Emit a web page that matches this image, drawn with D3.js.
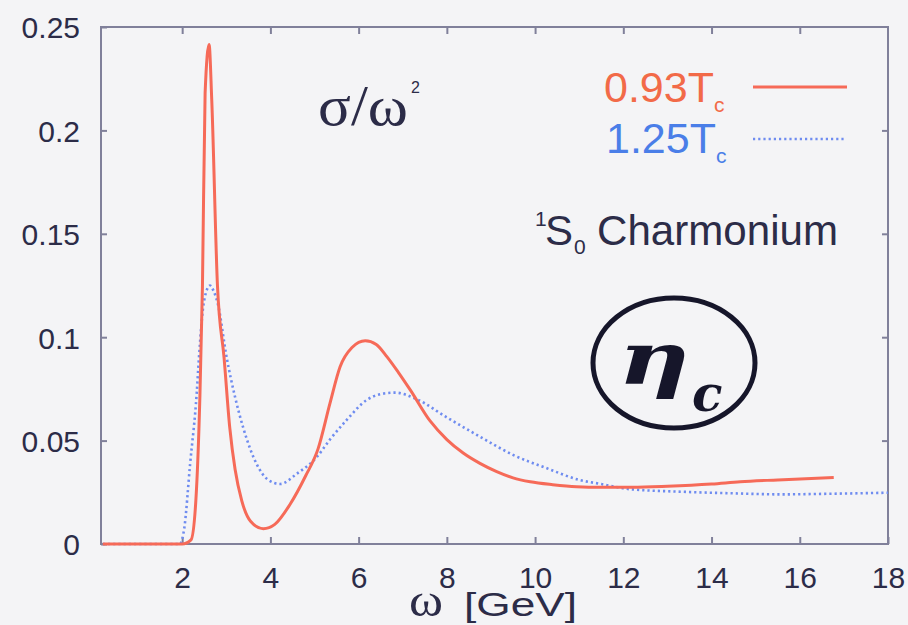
<!DOCTYPE html>
<html>
<head>
<meta charset="utf-8">
<script src="https://cdn.jsdelivr.net/npm/d3@7"></script>
<style>
  html, body { margin: 0; padding: 0; background: #f4f4f6; }
  svg { display: block; }
</style>
</head>
<body>
<svg id="chart" width="908" height="625"></svg>
<script>
// ---- data ----
const omegaRed = [0.2, 2.0, 2.2, 2.31, 2.4, 2.46, 2.52, 2.61, 2.67, 2.8, 2.95, 3.08, 3.2, 3.35, 3.55, 3.84, 4.1, 4.44, 4.8, 5.08, 5.35, 5.58, 5.85, 6.15, 6.4, 6.64, 6.9, 7.17, 7.62, 8.0, 8.37, 8.75, 9.13, 9.5, 9.89, 10.4, 10.94, 11.5, 12.2, 13.0, 14.0, 14.65, 15.5, 16.77];
const sigmaRed = [0, 0, 0.002, 0.021, 0.07, 0.125, 0.218, 0.2415, 0.215, 0.125, 0.09, 0.056, 0.036, 0.021, 0.011, 0.0074, 0.0095, 0.019, 0.033, 0.046, 0.068, 0.0857, 0.095, 0.0983, 0.0965, 0.0906, 0.083, 0.0745, 0.0595, 0.0505, 0.044, 0.039, 0.035, 0.032, 0.0301, 0.0287, 0.0277, 0.0274, 0.0274, 0.0279, 0.029, 0.0301, 0.031, 0.0322];

const omegaBlue = [0.2, 1.95, 2.05, 2.18, 2.33, 2.38, 2.5, 2.63, 2.72, 2.81, 3.01, 3.2, 3.39, 3.69, 3.95, 4.22, 4.6, 5.05, 5.35, 5.73, 6.18, 6.5, 6.83, 7.32, 8.0, 8.75, 9.51, 10.27, 11.0, 11.5, 12.15, 13.29, 14.5, 15.56, 16.7, 18.0];
const sigmaBlue = [0, 0, 0.008, 0.0387, 0.073, 0.090, 0.118, 0.125, 0.122, 0.116, 0.090, 0.071, 0.0558, 0.0386, 0.031, 0.029, 0.034, 0.042, 0.0505, 0.060, 0.0696, 0.0725, 0.0732, 0.0700, 0.0612, 0.0519, 0.043, 0.0366, 0.031, 0.029, 0.0265, 0.0253, 0.0245, 0.024, 0.0243, 0.0248];

const seriesNames = ["0.93T", "1.25T"];
const xTicks = [2, 4, 6, 8, 10, 12, 14, 16, 18];
const yTicks = [0, 0.05, 0.1, 0.15, 0.2, 0.25];
const yTickLabels = ["0", "0.05", "0.1", "0.15", "0.2", "0.25"];

// ---- layout ----
const svg = d3.select("#chart");
const L = 101, R = 888, T = 27, B = 544;
const x = d3.scaleLinear().domain([0.16, 18]).range([L, R]);
const y = d3.scaleLinear().domain([0, 0.25]).range([B, T]);

const axisColor = "#80809a";
const textColor = "#2c2c48";
const redColor = "#f66a58";
const blueColor = "#6f8cf0";

svg.append("rect").attr("width", 908).attr("height", 625).attr("fill", "#f4f4f6");

const fontSans = "'Liberation Sans', Arial, Helvetica, sans-serif";

const gx = svg.append("g").attr("transform", `translate(0,${B})`)
  .call(d3.axisBottom(x).tickValues(xTicks).tickSizeInner(-7).tickSizeOuter(0).tickPadding(23)
        .tickFormat(d3.format("d")));
const gxTop = svg.append("g").attr("transform", `translate(0,${T})`)
  .call(d3.axisTop(x).tickValues(xTicks.slice(0, -1)).tickSizeInner(-7).tickSizeOuter(0).tickFormat(""));
const gy = svg.append("g").attr("transform", `translate(${L},0)`)
  .call(d3.axisLeft(y).tickValues(yTicks).tickSizeInner(-6).tickSizeOuter(0).tickPadding(21)
        .tickFormat((d, i) => yTickLabels[i]));
const gyR = svg.append("g").attr("transform", `translate(${R},0)`)
  .call(d3.axisRight(y).tickValues(yTicks.slice(1, -1)).tickSizeInner(-6).tickSizeOuter(0).tickFormat(""));

[gx, gxTop, gy, gyR].forEach(g => {
  g.select(".domain").remove();
  g.selectAll(".tick line").attr("stroke", axisColor).attr("stroke-width", 2);
  g.selectAll(".tick text").attr("fill", textColor).attr("font-family", fontSans).attr("font-size", 30);
});
gy.selectAll(".tick text").attr("dy", "0.36em");

svg.append("rect").attr("x", L).attr("y", T).attr("width", R - L).attr("height", B - T)
  .attr("fill", "none").attr("stroke", axisColor).attr("stroke-width", 2);

// curves
const line = d3.line().x(d => x(d[0])).y(d => y(d[1])).curve(d3.curveMonotoneX);
const redData = omegaRed.map((w, i) => [w, sigmaRed[i]]);
const blueData = omegaBlue.map((w, i) => [w, sigmaBlue[i]]);

svg.append("path").datum(blueData).attr("d", line).attr("fill", "none")
  .attr("stroke", blueColor).attr("stroke-width", 2.6).attr("stroke-dasharray", "2.2,3");
svg.append("path").datum(redData).attr("d", line).attr("fill", "none")
  .attr("stroke", redColor).attr("stroke-width", 3);

// legend
const leg = svg.append("g").attr("font-family", fontSans);
const t1 = leg.append("text").attr("x", 604).attr("y", 102).attr("font-size", 43).attr("fill", "#f26a48");
t1.append("tspan").text(seriesNames[0]);
t1.append("tspan").attr("font-size", 21).attr("dy", 10).text("c");
const t2 = leg.append("text").attr("x", 606).attr("y", 153).attr("font-size", 43).attr("fill", "#4a7ee8");
t2.append("tspan").text(seriesNames[1]);
t2.append("tspan").attr("font-size", 21).attr("dy", 10).text("c");
leg.append("line").attr("x1", 753).attr("x2", 847).attr("y1", 87).attr("y2", 87)
  .attr("stroke", redColor).attr("stroke-width", 3);
leg.append("line").attr("x1", 753).attr("x2", 845).attr("y1", 139).attr("y2", 139)
  .attr("stroke", blueColor).attr("stroke-width", 2.6).attr("stroke-dasharray", "2.2,3");

// title sigma/omega^2
svg.append("text").attr("x", 318).attr("y", 125).attr("font-family", "'Liberation Serif', 'Times New Roman', serif")
  .attr("font-size", 58).attr("fill", textColor).attr("textLength", 90).attr("lengthAdjust", "spacingAndGlyphs")
  .text("σ/ω");
svg.append("text").attr("x", 411).attr("y", 93).attr("font-family", fontSans)
  .attr("font-size", 16).attr("fill", textColor).text("2");

// 1S0 Charmonium
const ch = svg.append("g").attr("font-family", fontSans).attr("fill", textColor);
ch.append("text").attr("x", 535).attr("y", 226).attr("font-size", 21).text("1");
ch.append("text").attr("x", 545).attr("y", 245).attr("font-size", 42).text("S");
ch.append("text").attr("x", 574).attr("y", 254).attr("font-size", 21).text("0");
ch.append("text").attr("x", 597).attr("y", 245).attr("font-size", 42)
  .attr("textLength", 241).attr("lengthAdjust", "spacingAndGlyphs").text("Charmonium");

// eta_c in ellipse
const inkColor = "#16162a";
const eta = svg.append("g").attr("fill", inkColor);
eta.append("ellipse").attr("cx", 674).attr("cy", 363).attr("rx", 81).attr("ry", 65)
  .attr("fill", "none").attr("stroke", inkColor).attr("stroke-width", 5);
eta.append("text").attr("x", 618).attr("y", 384).attr("font-family", "'DejaVu Serif', serif")
  .attr("font-style", "italic").attr("font-weight", "bold").attr("font-size", 72)
  .attr("textLength", 72).attr("lengthAdjust", "spacingAndGlyphs")
  .text("η");
eta.append("text").attr("x", 692).attr("y", 411).attr("font-family", "'DejaVu Serif', serif")
  .attr("font-style", "italic").attr("font-weight", "bold").attr("font-size", 50).text("c");

// x axis title
svg.append("text").attr("x", 409).attr("y", 616).attr("font-family", "'Liberation Serif', serif")
  .attr("font-size", 46).attr("fill", textColor).attr("textLength", 34).attr("lengthAdjust", "spacingAndGlyphs")
  .text("ω");
svg.append("text").attr("x", 464).attr("y", 616).attr("font-family", fontSans)
  .attr("font-size", 34).attr("fill", textColor).attr("textLength", 113).attr("lengthAdjust", "spacingAndGlyphs")
  .text("[GeV]");
</script>
</body>
</html>
